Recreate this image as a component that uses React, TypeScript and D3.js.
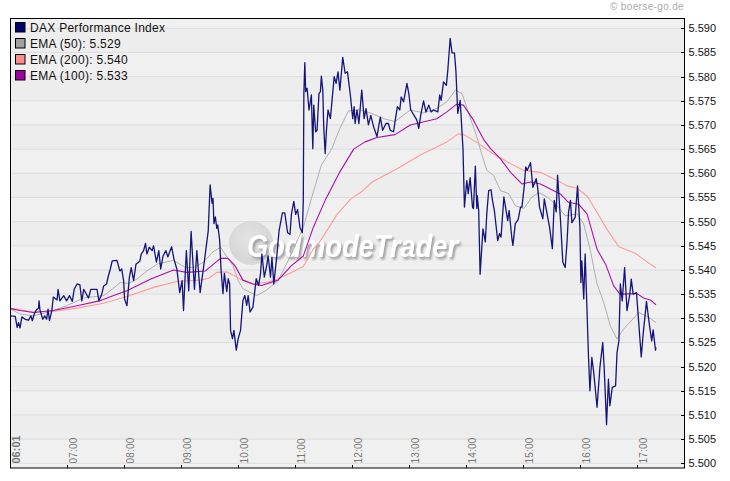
import { useEffect, useRef } from 'react';
import * as d3 from 'd3';

const W = 730;
const H = 481;

const timeLabels = ['07:00', '08:00', '09:00', '10:00', '11:00', '12:00', '13:00', '14:00', '15:00', '16:00', '17:00'];
const startLabel = '06:01';
const priceTicks = d3.range(5500, 5591, 5);
const legendLabels = ['DAX Performance Index', 'EMA (50): 5.529', 'EMA (200): 5.540', 'EMA (100): 5.533'];
const legendColors = ['#000070', '#a0a0a0', '#ff8c8c', '#a000a0'];

// minutes since 06:00, index points
const daxMinutes = [1, 6, 8, 9.5, 11, 13, 16.5, 20, 22.5, 24, 26, 28, 30.5, 31, 32, 35, 37, 39, 40.5, 42, 44.5, 46, 50, 51, 53, 57, 60, 63, 66, 68, 71, 74, 76, 78, 83, 85.5, 92, 94, 97, 99, 102, 104, 106, 108, 113, 116, 118, 120, 121, 123.5, 126, 128, 130.5, 133, 137, 138.5, 141, 143, 144.5, 147, 150, 151.5, 154.5, 157, 159, 161.5, 164.5, 166.5, 170.5, 173, 176, 179, 181.5, 183, 186, 188.5, 191, 194.5, 197, 200.5, 205, 209, 211, 213, 214, 215, 216.5, 218, 219, 221, 222.5, 224.5, 226, 228.5,
  230, 231.5, 232.5, 234.5, 236, 238.5, 240.5, 243, 245.5, 247.5, 249.5, 251, 253, 256, 259.5, 262, 264, 265.5, 268, 270.5, 272, 274.5, 276, 278, 281, 283.5, 287, 289.5, 292.5, 295, 296.5, 299, 301, 303, 305.5, 308, 309, 309.6, 310.6, 311.5, 313, 315, 317.5, 319, 320, 322, 323.5, 325.5, 327, 328, 329.5, 330.5, 332, 333.5, 335, 337.5, 341.5, 343.5, 345.5, 347.5, 350.5, 353, 355.5, 358.5, 361, 362.5, 363.5, 365.5, 367.5, 370.5, 373, 375, 377.5, 380, 383, 386.5, 390, 392.5, 396, 398.5, 400.5, 404, 405.5, 408, 410.5, 412, 414.5, 418, 420, 422, 425.5, 428.5, 430.5, 432.5, 435.5, 438, 441, 443.5, 446, 450.5, 452.5, 454, 456.5, 459.5, 461, 463.5, 465.5, 468, 469.5, 471.5, 474, 477,
  478.5, 481, 482.5, 484.5, 487, 488, 490, 491.5, 492, 493.5, 495, 498, 500.5, 502, 504, 506.5, 508, 510, 513.5, 515.5, 517, 520, 521.5, 524, 525.5, 528.5, 529.5, 532, 535, 537.5, 539, 541.5, 543, 544.5, 548, 550.5, 554, 555.5, 557.5, 561, 562.5, 568, 571, 573, 575, 576.5, 579.5, 582, 584.5, 586.5, 588, 590, 591.5, 595, 597.5, 600, 601, 602, 604, 605.5, 609, 610.5, 612.5, 614.5, 618, 621, 624, 625.5, 628, 630, 631.5, 634, 637.5, 639, 641, 642.5, 644.5, 647, 649.5, 652.5, 654, 656, 659.5, 664.5, 666.5, 670, 672.5, 675.5, 677, 679.5, 680];
const daxValues = [5530.5, 5530.4, 5528.1, 5529.1, 5528, 5530.3, 5529.8, 5529.6, 5530.5, 5529.5, 5530.9, 5531.7, 5532.1, 5533.6, 5531.7, 5529.8, 5530.5, 5529.8, 5531.9, 5529.5, 5531.6, 5534.4, 5533.8, 5536, 5533.6, 5534.7, 5533.6, 5534.7, 5533.5, 5536, 5537.1, 5536.9, 5533.6, 5536, 5534.2, 5536, 5536, 5533.6, 5535, 5536.7, 5537.1, 5538.8, 5540.2, 5541.9, 5542, 5539.8, 5540.2, 5537.8, 5534, 5532.6, 5538.4, 5540.5, 5537.8, 5541.2, 5541.8, 5543.3, 5544, 5545.5, 5543.3, 5544.7, 5544, 5545, 5541.6, 5544, 5540.2, 5542.9, 5544, 5542.7, 5544.8, 5542.2, 5540.2, 5535.3, 5537.8, 5531.6, 5544, 5535.7, 5548, 5536, 5544, 5535.3, 5541.9, 5548.1, 5557.6, 5553.8, 5554.8, 5549.6, 5551, 5548.6, 5549.3, 5546.2, 5540, 5535.1, 5539.3, 5535.5,
  5538.2, 5537.1, 5527.5, 5525.8, 5527.5, 5523.4, 5525.8, 5527.5, 5533.7, 5534.7, 5532.7, 5534.7, 5531.3, 5532.3, 5538.2, 5536.8, 5539.2, 5543.3, 5538.5, 5540.9, 5542.9, 5538.5, 5542.6, 5537.1, 5542.6, 5548.1, 5551.8, 5551.8, 5547.7, 5547.4, 5551.5, 5554.2, 5551.5, 5552.5, 5548.8, 5547.7, 5554.4, 5576.5, 5582.9, 5576.9, 5577.6, 5573.1, 5576.2, 5565.1, 5574.1, 5568.6, 5568.9, 5576.5, 5576.9, 5580.1, 5577.2, 5569.6, 5564.1, 5569.3, 5573.1, 5571.3, 5580, 5578.6, 5581, 5577.2, 5584, 5580.7, 5581, 5576.2, 5571.3, 5573.8, 5570.3, 5573.1, 5570.3, 5577.2, 5571.3, 5573.4, 5570, 5572, 5569.6, 5567.6, 5571.6, 5568.9, 5570.3, 5570.3, 5568.9, 5568.6, 5570.7, 5573.8, 5573.1, 5575.8, 5574.8, 5578.6, 5576.5, 5573.1, 5572, 5571, 5569.3, 5572, 5575, 5572.7, 5574.1, 5572.7, 5573.1, 5572.7, 5576.2, 5575.1, 5578.9, 5578.2, 5581.3, 5587.9, 5584.9, 5584.9, 5581.3, 5572.4, 5575.1, 5565,
  5553, 5558.5, 5555.8, 5559.1, 5553, 5552.7, 5561.5, 5552.7, 5555.4, 5552.3, 5539.1, 5548.5, 5545.8, 5551.6, 5556.4, 5556.6, 5554.4, 5552.3, 5546.1, 5547.5, 5546.8, 5555.1, 5553.3, 5550.2, 5552.3, 5546.4, 5545.1, 5549.6, 5550.4, 5553, 5553, 5557.5, 5561.3, 5560.6, 5562.2, 5557.1, 5558.9, 5557.1, 5553, 5550.6, 5554.7, 5548.9, 5544.4, 5554.4, 5552, 5559.6, 5550.5, 5541.6, 5540.5, 5546, 5551.9, 5554.4, 5549.8, 5550.9, 5557.4, 5548.8, 5537.4, 5541.9, 5534, 5543.3, 5522.2, 5515, 5521.9, 5518.8, 5511.6, 5519.8, 5525, 5519.8, 5508, 5517.4, 5511.9, 5515.7, 5516, 5522.9, 5525.3, 5537.1, 5533.6, 5540.5, 5531.6, 5535, 5538.1, 5535, 5535.3, 5522, 5526.7, 5533.5, 5529.5, 5525.3, 5527.6, 5523.4, 5524];

const ema50Minutes = [1, 11, 25, 46, 60, 78, 99, 108, 116.5, 125, 134, 144.5, 155, 172.5, 185, 193.5, 204, 213, 222, 230, 235, 240.5, 245.5, 260, 270, 282.5, 293, 309, 317, 328, 339, 347.5, 356.5, 369, 381, 393.5, 405.5, 421.5, 435.5, 449.5, 460, 469, 476, 483, 491.5, 495, 502, 509, 516.5, 525, 532, 541, 549.5, 556.5, 565.5, 576, 584.5, 597, 604, 611, 618, 625, 632, 639, 646, 662, 672.5, 680];
const ema50Values = [5531.9, 5530.9, 5530.5, 5531.6, 5532.6, 5534.2, 5534.7, 5536, 5537.4, 5537.2, 5538.1, 5539.8, 5541.2, 5542, 5540.5, 5540.5, 5541.6, 5543.6, 5544.7, 5542.3, 5540.9, 5537.8, 5536.1, 5534.7, 5535.8, 5537.8, 5541.9, 5548.8, 5554.4, 5561.7, 5565.1, 5569.3, 5572.9, 5573.1, 5572.4, 5571.3, 5570.7, 5573.1, 5572.5, 5573.4, 5574.8, 5577.2, 5576.5, 5572.4, 5567.6, 5565.1, 5560.6, 5559.6, 5556.4, 5555.8, 5553.3, 5552.7, 5555.1, 5556, 5555.1, 5553.3, 5551.2, 5551.6, 5549.5, 5544, 5537.1, 5533.3, 5528.4, 5525.7, 5527.8, 5531.2, 5530.2, 5529.1];

const ema200Minutes = [1, 25, 46, 71, 99, 123.5, 151.5, 176, 200.5, 209.5, 218, 229, 244, 256, 272, 282.5, 296.5, 309, 319.5, 327, 344.5, 358.5, 371, 381.5, 411, 432, 444.5, 460, 472.5, 478, 491.5, 509, 527, 541, 558.5, 576, 586.5, 597, 607.5, 618, 628.5, 641, 658.5, 667, 680];
const ema200Values = [5532.1, 5531.3, 5531.4, 5532.1, 5533.1, 5534.5, 5536.4, 5537.6, 5537.9, 5538.3, 5539.5, 5539.6, 5538, 5537.1, 5537.5, 5538.2, 5539.5, 5540.7, 5544.3, 5546, 5551.5, 5554.6, 5556.3, 5558.2, 5561.3, 5563.8, 5565, 5566.5, 5568.2, 5568, 5566.4, 5564, 5562, 5560.6, 5560.2, 5558.5, 5557.4, 5556.9, 5555.3, 5551.9, 5548.4, 5544.8, 5543.4, 5542.2, 5540.4];

const ema100Minutes = [1, 11, 25, 46, 71, 94.5, 109.5, 123.5, 148, 172.5, 186.5, 206, 222, 230, 237, 245.5, 256, 265, 282.5, 296.5, 309, 319.5, 332, 347.5, 362, 374, 386.5, 405.5, 421.5, 449.5, 460, 470.5, 477.5, 488, 499, 506, 516.5, 527, 539, 548, 558.5, 572.5, 579.5, 588, 598.5, 607.5, 618, 627, 635.5, 642, 660, 667, 674, 680];
const ema100Values = [5532, 5531.6, 5531.2, 5531.6, 5532.6, 5533.6, 5534.7, 5535.7, 5538.1, 5540, 5539.5, 5539.8, 5542.4, 5542.4, 5540.9, 5537.9, 5537.1, 5536.8, 5537.9, 5540.9, 5542.9, 5548.8, 5554.4, 5560.3, 5565, 5566.5, 5567.4, 5568, 5570, 5571.3, 5572.7, 5574.3, 5574.1, 5571, 5566.9, 5565.1, 5563, 5560.2, 5557.8, 5558.2, 5557.8, 5556.4, 5555.7, 5554, 5553.6, 5551.6, 5544.3, 5541.2, 5536.7, 5535, 5535.1, 5534.2, 5533.8, 5532.8];

const series = [
  { minutes: ema50Minutes, values: ema50Values, color: '#aeaeae', width: 1 },
  { minutes: ema200Minutes, values: ema200Values, color: '#ff9a9a', width: 1.1 },
  { minutes: ema100Minutes, values: ema100Values, color: '#aa10aa', width: 1.1 },
  { minutes: daxMinutes, values: daxValues, color: '#14147a', width: 1.3 },
];

const margin = { top: 18.5, right: 45.5, bottom: 13, left: 10.5 };
const plotRight = W - margin.right;
const plotBottom = H - margin.bottom;
const FONT = '"Liberation Sans", Arial, sans-serif';

const toMinutes = (s: string) => +s.slice(0, 2) * 60 + +s.slice(3) - 360;

export default function App() {
  const axisRef = useRef<SVGGElement | null>(null);

  const x = d3.scaleLinear().domain([1, 710]).range([margin.left, plotRight]);
  const y = d3.scaleLinear().domain([5500, 5590]).range([463.3, 28.3]);

  const bands = d3.pairs([5590 + 5, ...priceTicks.slice().reverse()]);
  const line = d3.line<[number, number]>().x(d => x(d[0])).y(d => y(d[1]));

  useEffect(() => {
    const g = d3.select(axisRef.current);
    g.selectAll('*').remove();

    const right = g.append('g').attr('transform', `translate(${plotRight},0)`)
      .call(d3.axisRight(y).tickValues(priceTicks).tickSize(-4).tickPadding(4)
        .tickFormat(d => (+d / 1000).toFixed(3)));
    right.select('.domain').remove();
    right.selectAll('line').attr('stroke', '#000').attr('shape-rendering', 'crispEdges');
    right.selectAll('text').attr('font-family', FONT).attr('font-size', 11).attr('fill', '#111');

    const bottom = g.append('g').attr('transform', `translate(0,${plotBottom})`)
      .call(d3.axisBottom(x).tickValues(timeLabels.map(toMinutes)).tickSize(-3).tickFormat(() => ''));
    bottom.select('.domain').remove();
    bottom.selectAll('line').attr('stroke', '#000').attr('shape-rendering', 'crispEdges');
  }, []);

  return (
    <svg width={W} height={H} viewBox={`0 0 ${W} ${H}`} style={{ position: 'absolute', left: 0, top: 0, background: '#fff' }}>
      <defs>
        <clipPath id="plot">
          <rect x={margin.left} y={margin.top} width={plotRight - margin.left} height={plotBottom - margin.top} />
        </clipPath>
        <radialGradient id="ball" cx="0.45" cy="0.4" r="0.7">
          <stop offset="0" stopColor="#e4e4e4" />
          <stop offset="0.75" stopColor="#d6d6d6" />
          <stop offset="1" stopColor="#e2e2e2" />
        </radialGradient>
        <filter id="shadow" x="-5%" y="-20%" width="110%" height="150%">
          <feDropShadow dx="2" dy="2.5" stdDeviation="0.9" floodColor="#a0a0a0" />
        </filter>
      </defs>

      <text x={684} y={10} textAnchor="end" fontFamily={FONT} fontSize={10} letterSpacing={0.35} fill="#aaa">© boerse-go.de</text>

      <g clipPath="url(#plot)">
        {bands.map(([a, b], i) => (
          <rect key={a} x={margin.left} y={y(a)} width={plotRight - margin.left} height={y(b) - y(a)} fill={i % 2 === 0 ? '#f0f0f0' : '#ededed'} />
        ))}
        <rect x={margin.left} y={y(5500)} width={plotRight - margin.left} height={plotBottom - y(5500)} fill="#f0f0f0" />
        {priceTicks.map(t => (
          <line key={t} x1={margin.left} x2={plotRight} y1={y(t)} y2={y(t)} stroke="#dddddd" />
        ))}

        <circle cx={251} cy={243} r={22} fill="url(#ball)" />
        <text x={247} y={257} fontFamily={FONT} fontSize={31} fontWeight="bold" fontStyle="italic" fill="#fff" filter="url(#shadow)" textLength={211} lengthAdjust="spacingAndGlyphs">GodmodeTrader</text>

        {series.map(s => (
          <path key={s.color} d={line(s.minutes.map((m, i) => [m, s.values[i]] as [number, number])) ?? ''} fill="none" stroke={s.color} strokeWidth={s.width} strokeLinejoin="round" />
        ))}
      </g>

      <rect x={margin.left} y={margin.top} width={plotRight - margin.left} height={plotBottom - margin.top} fill="none" stroke="#000" strokeWidth={1} />
      <g ref={axisRef} />

      <text transform={`translate(${x(1) + 9.5},463.5) rotate(-90)`} fontFamily={FONT} fontSize={11} fontWeight="bold" fill="#777">{startLabel}</text>
      {timeLabels.map(t => (
        <text key={t} transform={`translate(${x(toMinutes(t)) + 10.5},463.5) rotate(-90)`} fontFamily={FONT} fontSize={10} letterSpacing={0.2} fill="#777">{t}</text>
      ))}

      {legendLabels.map((l, i) => (
        <g key={l} transform={`translate(0,${16 * i})`}>
          <rect x={15.5} y={22.5} width={9.5} height={9.5} fill={legendColors[i]} stroke="#000" />
          <text x={30} y={31.5} fontFamily={FONT} fontSize={12} letterSpacing={0.28} fill="#111">{l}</text>
        </g>
      ))}
    </svg>
  );
}
